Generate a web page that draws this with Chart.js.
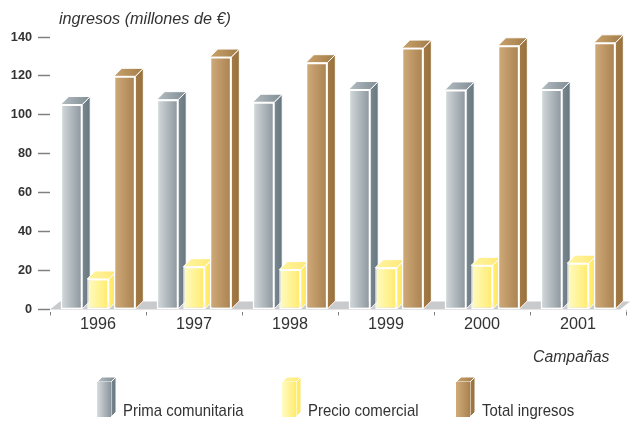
<!DOCTYPE html>
<html><head><meta charset="utf-8">
<style>html,body{margin:0;padding:0;background:#fff}canvas{display:block}</style>
<script src="https://cdn.jsdelivr.net/npm/chart.js@4"></script></head>
<body><canvas id="c" width="630" height="421"></canvas>
<script>
const categories = ['1996','1997','1998','1999','2000','2001'];
const primaComunitaria = [105.3,107.8,106.5,113,112.8,113];
const precioComercial = [15.7,22,20.5,21.5,22.7,23.8];
const totalIngresos = [119.8,129.7,126.8,134.3,135.5,137];
const seriesNames = ['Prima comunitaria','Precio comercial','Total ingresos'];
const yTicks = [0,20,40,60,80,100,120,140];
const yTitle = 'ingresos (millones de €)';
const xTitle = 'Campañas';

const pal = [
 {f:['#d6dcdf','#8b959c'],s:['#7a8890','#667680'],t:['#b4bdc2','#7f8b93']},
 {f:['#fffbc6','#ffec6a'],s:['#ffee78','#ffe75a'],t:['#fff5a0','#ffe878']},
 {f:['#d2ab7c','#a8824e'],s:['#a57b47','#96703c'],t:['#c9a26c','#a27c48']}
];
const catPct = 0.83, barPct = 0.81, DX = 8, DY = 8;
const lin = (c,x0,x1,cols)=>{const g=c.createLinearGradient(x0,0,x1,0);g.addColorStop(0,cols[0]);g.addColorStop(1,cols[1]);return g;};
function poly(c,pts,fill,stroke){c.beginPath();pts.forEach((p,i)=>i?c.lineTo(p[0],p[1]):c.moveTo(p[0],p[1]));c.closePath();c.fillStyle=fill;c.fill();if(stroke){c.strokeStyle=stroke;c.lineWidth=1;c.stroke();}}
function faces(c,l,r,top,base,p,dx,dy,stroke){
  poly(c,[[r,top],[r+dx,top-dy],[r+dx,base-dy],[r,base]],lin(c,r,r+dx,p.s),stroke);
  poly(c,[[l,top],[l+dx,top-dy],[r+dx,top-dy],[r,top]],lin(c,l,r+dx,p.t),stroke);
}
const frontFill = ctx=>{
  const ch=ctx.chart, xs=ch.scales.x, p=pal[ctx.datasetIndex];
  if(ctx.type!=='data'||!xs) return p.f[1];
  const cat=xs.width/categories.length, slot=cat*catPct/3, w=slot*barPct;
  const cx=xs.getPixelForValue(ctx.dataIndex)+(ctx.datasetIndex-1)*slot;
  if(!isFinite(cx)||!isFinite(w)) return p.f[1];
  return lin(ch.ctx,cx-w/2,cx+w/2,p.f);
};
const draw3d = {
  id:'draw3d',
  beforeDatasetsDraw(chart){
    const c=chart.ctx,a=chart.chartArea;
    poly(c,[[a.left,a.bottom],[a.left+DX+2,a.bottom-DY],[a.right+4,a.bottom-DY],[a.right-6,a.bottom]],'#c9cacc');
    chart.data.datasets.forEach((d,i)=>{
      const m=chart.getDatasetMeta(i);
      m.data.forEach(el=>{
        const h=el.getProps(['x','y','base','width'],true);
        faces(c,h.x-h.width/2,h.x+h.width/2,h.y,h.base,pal[i],DX,DY,'#fff');
      });
      m.controller.draw();
    });
    c.fillStyle='#ffffff';c.fillRect(a.left-0.5,a.bottom+0.5,a.width+1,2);
    return false;
  },
  afterDraw(chart){
    const c=chart.ctx;
    c.save();
    c.fillStyle='#333';c.textBaseline='alphabetic';c.textAlign='left';
    c.font='italic 16.2px "Liberation Sans"';c.fillText(yTitle,59,24);
    c.font='italic 15.8px "Liberation Sans"';c.fillText(xTitle,533,362);
    const lx=[97,282,456], tx=[123,308,482];
    seriesNames.forEach((n,i)=>{
      const l=lx[i],r=l+14,top=382,base=417,p=pal[i];
      faces(c,l,r,top,base,p,5,5,'#fff');
      c.fillStyle=lin(c,l,r,p.f);c.fillRect(l,top,14,base-top);
      c.fillStyle='#333';
      c.font='17px "Liberation Sans"';
      c.save();c.translate(tx[i],416);c.scale(0.88,1);c.fillText(n,0,0);c.restore();
    });
    c.restore();
  }
};
new Chart(document.getElementById('c'),{
  type:'bar',
  plugins:[draw3d],
  data:{labels:categories,datasets:[primaComunitaria,precioComercial,totalIngresos].map((v,i)=>({
    label:seriesNames[i],data:v,backgroundColor:frontFill,borderColor:'#fff',borderWidth:1.5,
    borderSkipped:false,categoryPercentage:catPct,barPercentage:barPct
  }))},
  options:{
    responsive:false,animation:false,
    layout:{padding:{left:0,right:4,top:37,bottom:0}},
    plugins:{legend:{display:false},title:{display:false},tooltip:{enabled:false}},
    scales:{
      x:{offset:true,
        grid:{offset:true,drawOnChartArea:false,drawTicks:true,tickLength:6,tickColor:'#808080',tickWidth:1},
        border:{display:false},
        ticks:{color:'#333',font:{family:'"Liberation Sans"',size:16.2},padding:-1,maxRotation:0,autoSkip:false},
        afterFit:s=>{s.height=111.5;}
      },
      y:{min:0,max:140,
        afterBuildTicks:s=>{s.ticks=yTicks.map(v=>({value:v}));},
        grid:{drawOnChartArea:false,drawTicks:true,tickLength:12,tickColor:'#808080',tickWidth:1.5},
        border:{display:false},
        ticks:{color:'#333',font:{family:'"Liberation Sans"',size:12.7,weight:'bold'},padding:6},
        afterFit:s=>{s.width=50;}
      }
    }
  }
});
</script></body></html>
